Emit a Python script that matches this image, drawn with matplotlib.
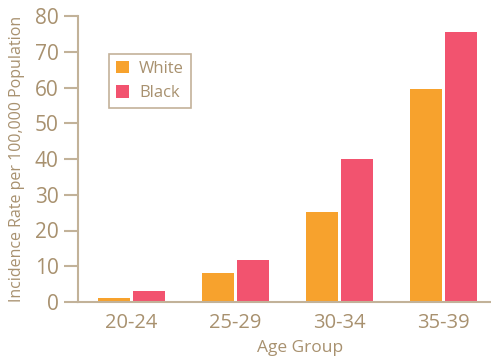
import numpy as np
import matplotlib
matplotlib.use('Agg')
import matplotlib.pyplot as plt

groups = ['20-24', '25-29', '30-34', '35-39']
white = [1.1, 8.0, 25.2, 59.6]
black = [3.1, 11.7, 40.0, 75.5]

text_col = '#A8916F'
axis_col = '#C2B299'

plt.rcParams['font.family'] = ['Open Sans', 'DejaVu Sans']

fig = plt.figure(figsize=(4.91, 3.6), dpi=100)
ax = fig.add_axes([78 / 491, 58 / 360, 413 / 491, 286 / 360])

x = np.arange(len(groups))
w = 0.308
off = 0.168
ax.bar(x - off, white, width=w, color='#F7A22D', label='White')
ax.bar(x + off, black, width=w, color='#F2536F', label='Black')

ax.set_xlim(-0.514, 3.457)
ax.set_ylim(0, 80)
ax.set_yticks(range(0, 81, 10))
ax.set_xticks(x)
ax.set_xticklabels(groups)

for s in ['top', 'right']:
    ax.spines[s].set_visible(False)
for s in ['left', 'bottom']:
    ax.spines[s].set_color(axis_col)
    ax.spines[s].set_linewidth(1.5)

ax.tick_params(axis='y', direction='out', length=10, width=1.5, color=axis_col,
               labelcolor=text_col, labelsize=15, pad=4)
ax.tick_params(axis='x', length=0, labelcolor=text_col, labelsize=14.5, pad=8)

ax.set_ylabel('Incidence Rate per 100,000 Population', color=text_col, fontsize=11.5)
ax.yaxis.set_label_coords(-53 / 413, 0.5)
ax.set_xlabel('Age Group', color=text_col, fontsize=12.5)
ax.xaxis.set_label_coords((300 - 78) / 413, -38 / 286)

leg = ax.legend(loc='upper left', bbox_to_anchor=((109 - 78) / 413, (302 - 54) / 286),
                borderaxespad=0, frameon=True, fancybox=False, fontsize=12,
                handlelength=0.8, handleheight=0.8, handletextpad=0.6,
                borderpad=0.4, labelspacing=0.5)
leg.get_frame().set_edgecolor('#B49E80')
leg.get_frame().set_linewidth(1.2)
for t in leg.get_texts():
    t.set_color(text_col)

plt.savefig('out.png', dpi=100)
